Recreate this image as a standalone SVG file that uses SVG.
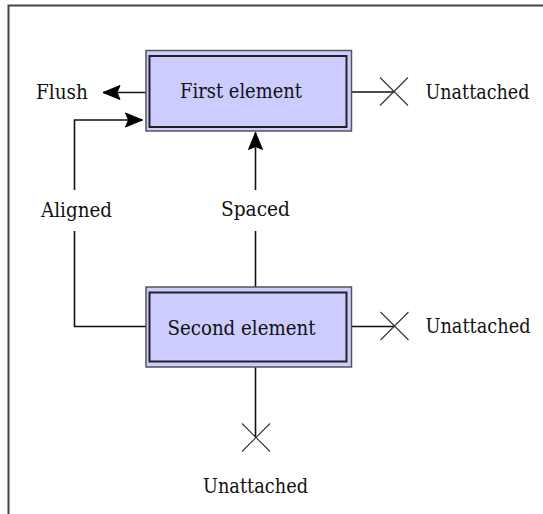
<svg xmlns="http://www.w3.org/2000/svg" width="543" height="514" viewBox="0 0 543 514">
<style>
.frame{fill:none;stroke:#444;stroke-width:2}
.outer{fill:#ccccff;stroke:#555;stroke-width:1.5}
.inner{fill:none;stroke:#222;stroke-width:2}
.c{fill:none;stroke:#111;stroke-width:1.6}
.x{fill:none;stroke:#333;stroke-width:1.1}
.t{font-family:"DejaVu Serif","Liberation Serif",serif;font-size:20.5px;fill:#111}
</style>
<defs>
<marker id="arr" markerUnits="userSpaceOnUse" markerWidth="20" markerHeight="18" viewBox="-18 -9 19 18" refX="0" refY="0" orient="auto">
<path d="M0,0 L-17,-7 L-14,0 L-17,7 Z" fill="#000" stroke="#000" stroke-width="1" stroke-linejoin="round"/>
</marker>
</defs>
<rect width="543" height="514" fill="#fff"/>
<path class="frame" d="M8.5,514 V5.5 H543"/>
<g id="connectors">
<line class="c" x1="146" y1="92.5" x2="103" y2="92.5" marker-end="url(#arr)"/>
<line class="c" x1="352" y1="92" x2="394" y2="92"/>
<path class="c" d="M146,326.5 H74.5 V231"/>
<path class="c" d="M74.5,190 V120 H142.5" marker-end="url(#arr)"/>
<path class="c" d="M255.5,287 V231"/>
<path class="c" d="M255.5,190 V132.5" marker-end="url(#arr)"/>
<line class="c" x1="352" y1="326.5" x2="394.5" y2="326.5"/>
<line class="c" x1="255.5" y1="367" x2="255.5" y2="437.5"/>
</g>
<g id="first-element">
<rect class="outer" x="146" y="50.5" width="205.5" height="80.5"/>
<rect class="inner" x="149.5" y="56" width="197" height="71"/>
<text class="t" x="180" y="98" textLength="122" lengthAdjust="spacingAndGlyphs">First element</text>
</g>
<g id="second-element">
<rect class="outer" x="146" y="287" width="205.5" height="80"/>
<rect class="inner" x="149.5" y="292.5" width="197" height="69"/>
<text class="t" x="167.5" y="334.5" textLength="148" lengthAdjust="spacingAndGlyphs">Second element</text>
</g>
<g id="flush">
<text class="t" x="36" y="98.5" textLength="52" lengthAdjust="spacingAndGlyphs">Flush</text>
</g>
<g id="unattached-1">
<path class="x" d="M380,77.5 L408,105.5 M408,77.5 L380,105.5"/>
<text class="t" x="425.5" y="99" textLength="104" lengthAdjust="spacingAndGlyphs">Unattached</text>
</g>
<g id="aligned">
<text class="t" x="41" y="216.5" textLength="71" lengthAdjust="spacingAndGlyphs">Aligned</text>
</g>
<g id="spaced">
<text class="t" x="221" y="216" textLength="69" lengthAdjust="spacingAndGlyphs">Spaced</text>
</g>
<g id="unattached-2">
<path class="x" d="M380.5,312 L408.5,340 M408.5,312 L380.5,340"/>
<text class="t" x="425.5" y="333" textLength="105" lengthAdjust="spacingAndGlyphs">Unattached</text>
</g>
<g id="unattached-3">
<path class="x" d="M242,423.5 L270,451.5 M270,423.5 L242,451.5"/>
<text class="t" x="203" y="492.5" textLength="105" lengthAdjust="spacingAndGlyphs">Unattached</text>
</g>
</svg>
